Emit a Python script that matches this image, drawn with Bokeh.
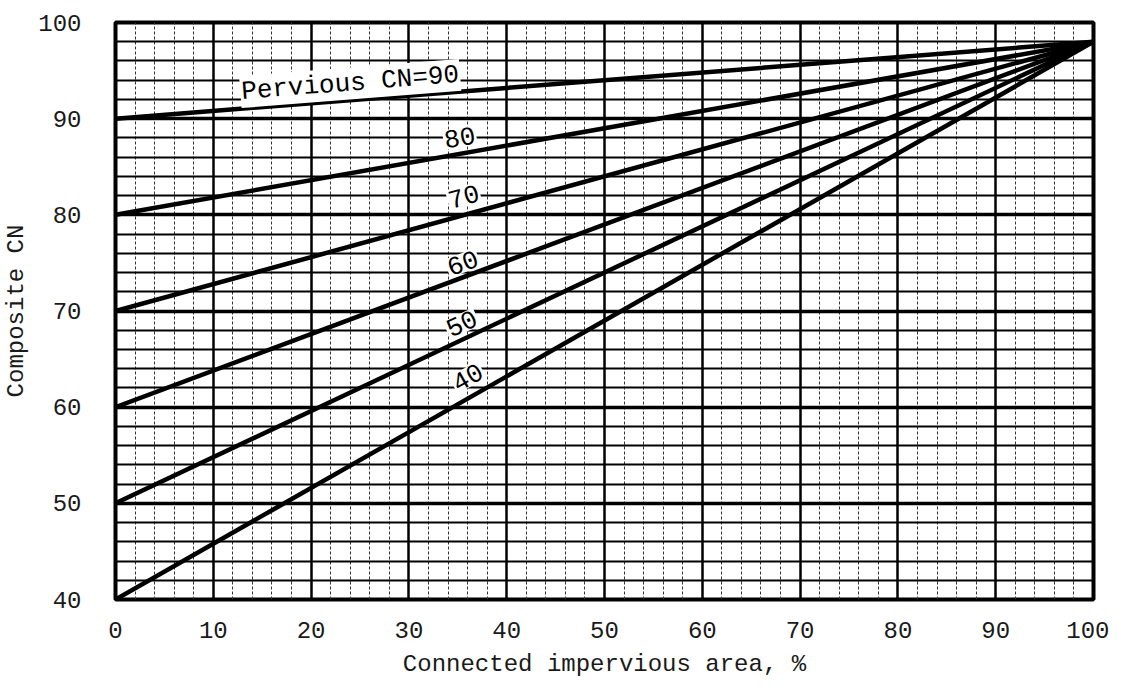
import math
from bokeh.plotting import figure
from bokeh.models import Range1d, FixedTicker, Label
from bokeh.embed import file_html
from bokeh.resources import INLINE

# Data
pervious_cn = [90, 80, 70, 60, 50, 40]
impervious_cn = 98
x_pct = [0, 100]
x_ticks = [0, 10, 20, 30, 40, 50, 60, 70, 80, 90, 100]
y_ticks = [40, 50, 60, 70, 80, 90, 100]
x_minor = list(range(0, 101, 2))
y_minor = list(range(40, 101, 2))
label_texts = ["Pervious CN=90", "80", "70", "60", "50", "40"]
label_x = [24.0, 35.2, 35.6, 35.5, 35.4, 36.0]
label_y = [93.66, 88.04, 81.9, 75.0, 68.7, 63.1]

FONT = "Liberation Mono"

p = figure(width=1109, height=680, output_backend="svg", toolbar_location=None,
           x_range=Range1d(0, 100), y_range=Range1d(40, 100),
           min_border_left=115, min_border_right=16, min_border_top=22, min_border_bottom=81)
p.background_fill_color = "white"
p.border_fill_color = "white"
p.outline_line_color = "black"
p.outline_line_width = 4

# grids
p.xgrid.ticker = FixedTicker(ticks=x_ticks, minor_ticks=x_minor)
p.ygrid.ticker = FixedTicker(ticks=y_ticks, minor_ticks=y_minor)
p.xgrid.grid_line_color = "black"
p.xgrid.grid_line_width = 2.5
p.xgrid.grid_line_alpha = 1
p.xgrid.minor_grid_line_color = "#333333"
p.xgrid.minor_grid_line_width = 1
p.xgrid.minor_grid_line_dash = "3 2"
p.ygrid.grid_line_color = "black"
p.ygrid.grid_line_width = 3.5
p.ygrid.grid_line_alpha = 1
p.ygrid.minor_grid_line_color = "black"
p.ygrid.minor_grid_line_width = 2

# axes
for ax in (p.xaxis[0], p.yaxis[0]):
    ax.axis_line_color = None
    ax.major_tick_line_color = None
    ax.minor_tick_line_color = None
    ax.major_label_text_font = FONT
    ax.major_label_text_font_size = "24px"
    ax.major_label_text_color = "#1a1a1a"
    ax.axis_label_text_font = FONT
    ax.axis_label_text_font_size = "24px"
    ax.axis_label_text_font_style = "normal"
    ax.axis_label_text_color = "#1a1a1a"
p.xaxis.ticker = FixedTicker(ticks=x_ticks)
p.yaxis.ticker = FixedTicker(ticks=y_ticks)
p.xaxis.major_label_standoff = 16
p.yaxis.major_label_standoff = 28
p.xaxis.axis_label = "Connected impervious area, %"
p.yaxis.axis_label = "Composite CN"
p.xaxis.axis_label_standoff = 10
p.yaxis.axis_label_standoff = 5

# lines
for cn in pervious_cn:
    ys = [cn + (impervious_cn - cn) * x / 100.0 for x in x_pct]
    p.line(x_pct, ys, line_color="black", line_width=4.5)

# labels
for t, lx, ly, cn in zip(label_texts, label_x, label_y, pervious_cn):
    slope = (impervious_cn - cn) / 100.0 * (577 / 60) / (978 / 100)
    ang = math.atan(slope)
    p.add_layout(Label(x=lx, y=ly, text=t, angle=ang, text_align="center",
                       text_baseline="middle", text_font=FONT, text_font_size="26px",
                       text_color="black", background_fill_color="white",
                       padding=1))

open("out.html", "w").write(file_html(p, INLINE))
